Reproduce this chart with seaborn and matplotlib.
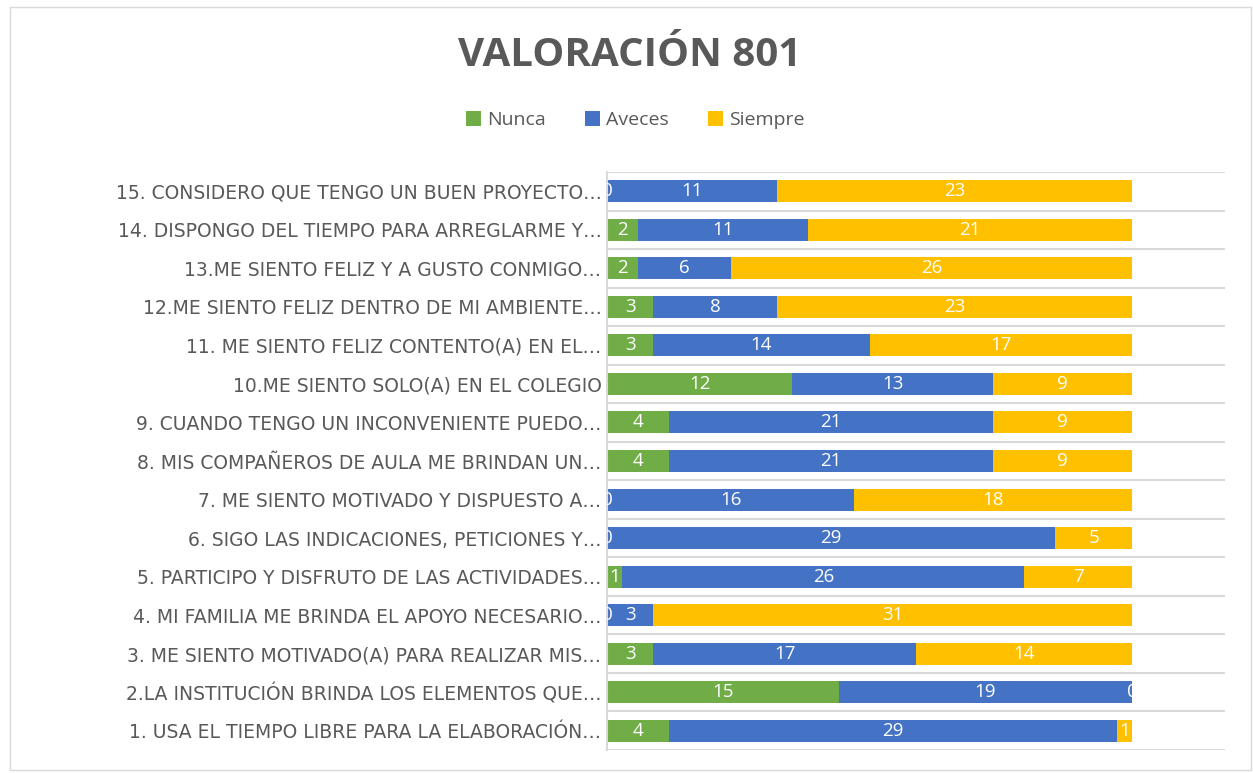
import matplotlib
matplotlib.use("Agg")
import matplotlib.pyplot as plt
import seaborn as sns
import pandas as pd
import numpy as np
from matplotlib.patches import Patch, Rectangle

categories = [
    "15. CONSIDERO QUE TENGO UN BUEN PROYECTO…",
    "14. DISPONGO DEL TIEMPO PARA ARREGLARME Y…",
    "13.ME SIENTO FELIZ Y A GUSTO CONMIGO…",
    "12.ME SIENTO FELIZ DENTRO DE MI AMBIENTE…",
    "11. ME SIENTO FELIZ CONTENTO(A) EN EL…",
    "10.ME SIENTO SOLO(A) EN EL COLEGIO",
    "9. CUANDO TENGO UN INCONVENIENTE PUEDO…",
    "8. MIS COMPAÑEROS DE AULA ME BRINDAN UN…",
    "7. ME SIENTO MOTIVADO Y DISPUESTO A…",
    "6. SIGO LAS INDICACIONES, PETICIONES Y…",
    "5. PARTICIPO Y DISFRUTO DE LAS ACTIVIDADES…",
    "4. MI FAMILIA ME BRINDA EL APOYO NECESARIO…",
    "3. ME SIENTO MOTIVADO(A) PARA REALIZAR MIS…",
    "2.LA INSTITUCIÓN BRINDA LOS ELEMENTOS QUE…",
    "1. USA EL TIEMPO LIBRE PARA LA ELABORACIÓN…",
]
nunca = [0, 2, 2, 3, 3, 12, 4, 4, 0, 0, 1, 0, 3, 15, 4]
aveces = [11, 11, 6, 8, 14, 13, 21, 21, 16, 29, 26, 3, 17, 19, 29]
siempre = [23, 21, 26, 23, 17, 9, 9, 9, 18, 5, 7, 31, 14, 0, 1]
series_names = ["Nunca", "Aveces", "Siempre"]
colors = ["#70AD47", "#4472C4", "#FFC000"]

sns.set_theme(style="white")
plt.rcParams["font.family"] = ["Open Sans", "DejaVu Sans"]

df = pd.DataFrame({"cat": categories, "Nunca": nunca, "Aveces": aveces, "Siempre": siempre})
df["c1"] = df["Nunca"]
df["c2"] = df["Nunca"] + df["Aveces"]
df["c3"] = df["c2"] + df["Siempre"]

fig = plt.figure(figsize=(12.53, 7.73), dpi=100)
ax = fig.add_axes([607 / 1253, 1 - 750 / 773, (1225 - 607) / 1253, (750 - 172) / 773])

bw = 0.57
for col, color in zip(["c3", "c2", "c1"], [colors[2], colors[1], colors[0]]):
    sns.barplot(data=df, y="cat", x=col, orient="h", color=color, width=bw,
                saturation=1, ax=ax, linewidth=0, order=categories)

# value labels
for i, row in df.iterrows():
    starts = [0, row["c1"], row["c2"]]
    vals = [row["Nunca"], row["Aveces"], row["Siempre"]]
    for s, v in zip(starts, vals):
        ax.text(s + v / 2, i, str(v), ha="center", va="center", color="white",
                fontsize=13.5, clip_on=True)

ax.set_xlim(0, 40)
ax.set_ylim(14.5, -0.5)
ax.set_xlabel("")
ax.set_ylabel("")
ax.set_xticks([])
ax.set_yticks(range(len(categories)))
ax.set_yticklabels(categories, fontsize=13.5, color="#595959", family=["DejaVu Sans"])
ax.tick_params(axis="y", length=0, pad=4)
ax.set_yticks(np.arange(-0.5, 15, 1), minor=True)
ax.grid(which="minor", axis="y", color="#d9d9d9", linewidth=1.5)
ax.set_axisbelow(True)
for sp in ["top", "right", "bottom"]:
    ax.spines[sp].set_visible(False)
ax.spines["left"].set_color("#d9d9d9")
ax.spines["left"].set_linewidth(1.5)

fig.text(630 / 1253, 1 - 55 / 773, "VALORACIÓN 801", ha="center", va="center",
         fontsize=29, fontweight="bold", color="#595959")

handles = [Patch(facecolor=c, edgecolor="none") for c in colors]
fig.legend(handles, series_names, loc="center", bbox_to_anchor=(635 / 1253, 1 - 120 / 773),
           ncol=3, frameon=False, fontsize=14, labelcolor="#595959",
           handlelength=0.8, handleheight=0.8, handletextpad=0.3, columnspacing=2.0)

fig.patches.append(Rectangle((10 / 1253, 0.004), 1 - 12 / 1253, 1 - 10 / 773,
                             transform=fig.transFigure, fill=False,
                             edgecolor="#d9d9d9", linewidth=1))

fig.savefig("out.png", dpi=100, facecolor="white")
